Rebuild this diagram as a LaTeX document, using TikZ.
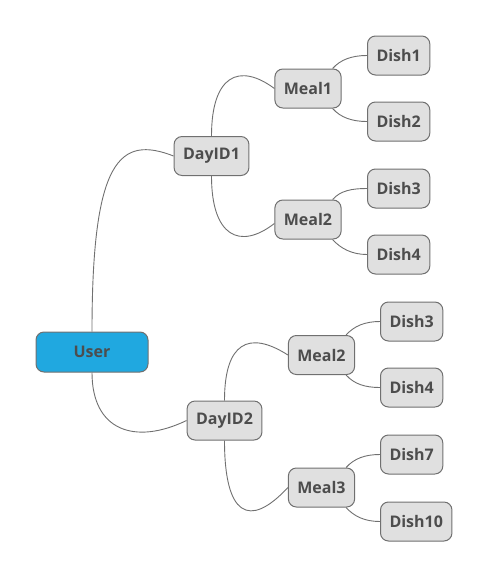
\documentclass[tikz,border=0pt]{standalone}
\usepackage{fontspec}
\setmainfont{Open Sans}
\definecolor{linegray}{HTML}{707070}
\definecolor{boxgray}{HTML}{E0E0E0}
\definecolor{txtgray}{HTML}{4D4D4D}
\definecolor{userblue}{HTML}{20A8E0}
\begin{document}
\begin{tikzpicture}[x=1pt,y=-1pt,
    topic/.style={draw=linegray, fill=boxgray, line width=1pt, rounded corners=8pt,
      text=txtgray, font=\bfseries\fontsize{16}{19}\selectfont,
      inner xsep=9pt, minimum height=39pt},
    root/.style={topic, fill=userblue, minimum width=112pt, minimum height=40pt},
    link/.style={draw=linegray, line width=0.9pt}]
  \useasboundingbox (0,0) rectangle (488,579);

  % root and days
  \node[root]  (User)   at (92,352)    {User};
  \node[topic] (DayID1) at (211.5,156) {DayID1};
  \node[topic] (DayID2) at (224.5,420.5) {DayID2};

  % meals
  \node[topic] (Meal1) at (308,88.5)   {Meal1};
  \node[topic] (Meal2) at (308,219.5)  {Meal2};
  \node[topic] (MealB) at (321.5,355)  {Meal2};
  \node[topic] (Meal3) at (321.5,487.5) {Meal3};

  % dishes
  \node[topic,anchor=west] (Dish1)  at (367,55.5)  {Dish1};
  \node[topic,anchor=west] (Dish2)  at (367,121.5) {Dish2};
  \node[topic,anchor=west] (Dish3)  at (367,188.5) {Dish3};
  \node[topic,anchor=west] (Dish4)  at (367,254.5) {Dish4};
  \node[topic,anchor=west] (DishC)  at (380,321.5) {Dish3};
  \node[topic,anchor=west] (DishD)  at (380,387.5) {Dish4};
  \node[topic,anchor=west] (Dish7)  at (380,454.5) {Dish7};
  \node[topic,anchor=west] (Dish10) at (380,521.5) {Dish10};

  \draw[link] (User.north) .. controls +(0,-172) and +(-54,-21) .. (DayID1.west);
  \draw[link] (User.south) .. controls +(0,58) and +(-52,25) .. (DayID2.west);
  \draw[link] (DayID1.north) .. controls +(0,-61) and +(-35,-26) .. (Meal1.west);
  \draw[link] (DayID1.south) .. controls +(0,60) and +(-35,27) .. ([yshift=-4pt]Meal2.west);
  \draw[link] (DayID2.north) .. controls +(0,-58) and +(-39,-25) .. (MealB.west);
  \draw[link] (DayID2.south) .. controls +(0,75) and +(-39,42) .. (Meal3.west);

  \foreach \meal/\up/\down in {Meal1/Dish1/Dish2, Meal2/Dish3/Dish4,
                               MealB/DishC/DishD, Meal3/Dish7/Dish10}{
    \draw[link] ([xshift=-9pt]\meal.north east) .. controls +(8,-9) and +(-15,0) .. (\up.west);
    \draw[link] ([xshift=-9pt]\meal.south east) .. controls +(8,9) and +(-15,0) .. (\down.west);
  }
\end{tikzpicture}
\end{document}
